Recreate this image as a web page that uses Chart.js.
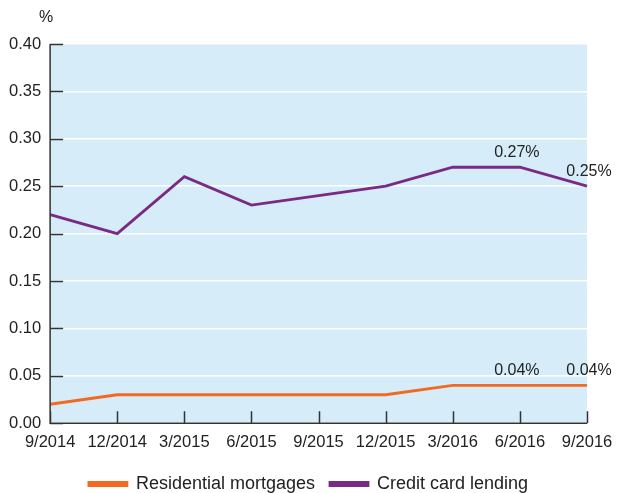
<!DOCTYPE html>
<html>
<head>
<meta charset="utf-8">
<script src="https://cdn.jsdelivr.net/npm/chart.js@4/dist/chart.umd.min.js"></script>
<style>
  html, body { margin: 0; padding: 0; background: #fff; }
  #wrap { position: relative; width: 617px; height: 493px; }
</style>
</head>
<body>
<div id="wrap"><canvas id="myChart" width="617" height="493"></canvas></div>
<script>
const quarters = ['9/2014', '12/2014', '3/2015', '6/2015', '9/2015', '12/2015', '3/2016', '6/2016', '9/2016'];
const mortgages = [0.02, 0.03, 0.03, 0.03, 0.03, 0.03, 0.04, 0.04, 0.04];
const creditCards = [0.22, 0.20, 0.26, 0.23, 0.24, 0.25, 0.27, 0.27, 0.25];
const labelledPoints = [7, 8];
const yTicks = [0, 0.05, 0.10, 0.15, 0.20, 0.25, 0.30, 0.35, 0.40];

const FONT = '"Liberation Sans", Arial, sans-serif';
const TEXT = '#222222';

// light blue plot background
const backdrop = {
    id: 'backdrop',
    beforeDraw(chart) {
        const a = chart.chartArea;
        const c = chart.ctx;
        c.save();
        c.fillStyle = '#d6edf9';
        c.fillRect(a.left, a.top, a.right - a.left, a.bottom - a.top);
        c.restore();
    }
};

// short inward tick marks and the axis lines
const axisMarks = {
    id: 'axisMarks',
    afterDatasetsDraw(chart) {
        const a = chart.chartArea;
        const c = chart.ctx;
        const x = chart.scales.x;
        const y = chart.scales.y;
        c.save();
        c.strokeStyle = '#333333';
        c.lineWidth = 1.5;
        c.beginPath();
        c.moveTo(a.left, a.top);
        c.lineTo(a.left, a.bottom);
        c.lineTo(a.right, a.bottom);
        yTicks.forEach(v => {
            const py = Math.round(y.getPixelForValue(v)) + 0.5;
            c.moveTo(a.left, py);
            c.lineTo(a.left + 13, py);
        });
        quarters.forEach((q, i) => {
            const px = Math.round(x.getPixelForValue(i)) + 0.5;
            c.moveTo(px, a.bottom);
            c.lineTo(px, a.bottom - 12);
        });
        c.stroke();
        // % unit label
        c.fillStyle = TEXT;
        c.font = '16px ' + FONT;
        c.textAlign = 'center';
        c.textBaseline = 'middle';
        c.fillText('%', a.left - 4, 18);
        c.restore();
    }
};

// value labels on the last points
const pointLabels = {
    id: 'pointLabels',
    afterDatasetsDraw(chart) {
        const c = chart.ctx;
        c.save();
        c.fillStyle = TEXT;
        c.font = '16px ' + FONT;
        c.textAlign = 'center';
        c.textBaseline = 'middle';
        chart.data.datasets.forEach((ds, d) => {
            const meta = chart.getDatasetMeta(d);
            labelledPoints.forEach(i => {
                const p = meta.data[i];
                const dx = i === 7 ? -3 : 2;
                c.fillText(ds.data[i].toFixed(2) + '%', p.x + dx, p.y - 15);
            });
        });
        c.restore();
    }
};

const ctx = document.getElementById('myChart').getContext('2d');
const myChart = new Chart(ctx, {
    type: 'line',
    data: {
        labels: quarters,
        datasets: [{
            label: 'Residential mortgages',
            data: mortgages,
            borderColor: '#f26a21',
            backgroundColor: '#f26a21',
            borderWidth: 2.8,
            pointRadius: 0,
            tension: 0
        }, {
            label: 'Credit card lending',
            data: creditCards,
            borderColor: '#7a2a84',
            backgroundColor: '#7a2a84',
            borderWidth: 2.8,
            pointRadius: 0,
            tension: 0
        }]
    },
    options: {
        responsive: false,
        animation: false,
        layout: { padding: { top: 44, right: 0, left: 0, bottom: -10 } },
        scales: {
            x: {
                offset: false,
                grid: { display: false, drawTicks: false },
                border: { display: false },
                ticks: {
                    color: TEXT,
                    font: { family: FONT, size: 16.5 },
                    padding: 9,
                    maxRotation: 0,
                    autoSkip: false
                },
                afterFit(scale) {
                    scale.paddingRight = 30;
                    scale.paddingLeft = 0;
                    scale.height -= 1;
                }
            },
            y: {
                min: 0,
                max: 0.40,
                afterBuildTicks(axis) {
                    axis.ticks = yTicks.map(v => ({ value: v }));
                },
                grid: {
                    color: '#ffffff',
                    lineWidth: 1.5,
                    drawTicks: false
                },
                border: { display: false },
                ticks: {
                    color: TEXT,
                    font: { family: FONT, size: 16.5 },
                    padding: 9,
                    callback: v => v.toFixed(2)
                }
            }
        },
        plugins: {
            legend: {
                position: 'bottom',
                labels: {
                    color: TEXT,
                    font: { family: FONT, size: 18 },
                    boxWidth: 38,
                    boxHeight: 3,
                    padding: 15
                }
            },
            tooltip: { enabled: false }
        }
    },
    plugins: [backdrop, axisMarks, pointLabels]
});
</script>
</body>
</html>
